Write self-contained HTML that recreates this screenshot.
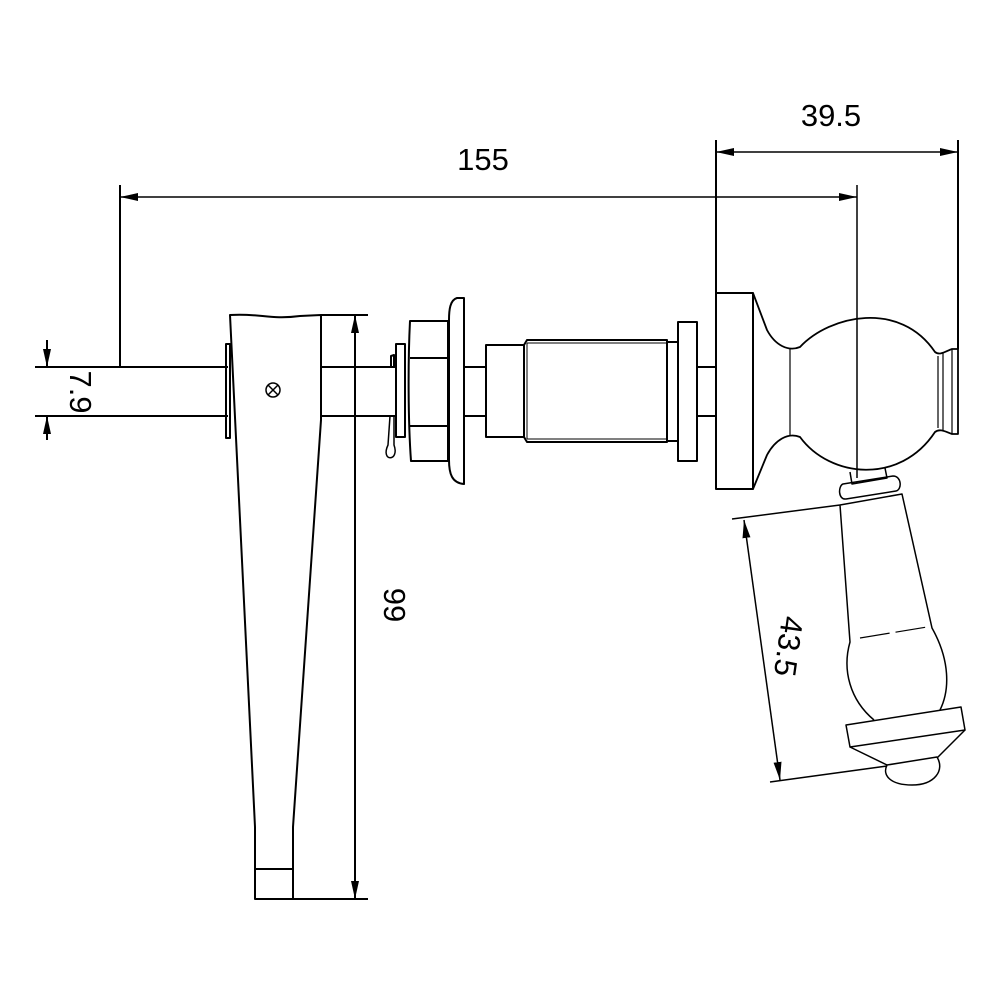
<!DOCTYPE html>
<html><head><meta charset="utf-8"><style>html,body{margin:0;padding:0;background:#fff}svg{display:block}</style></head>
<body>
<svg width="1000" height="1000" viewBox="0 0 1000 1000" xmlns="http://www.w3.org/2000/svg" fill="none" stroke="#000" stroke-width="2" stroke-linejoin="round">
<defs>
<marker id="a" viewBox="0 0 18 10" refX="18" refY="5" markerWidth="18" markerHeight="10" markerUnits="userSpaceOnUse" orient="auto-start-reverse"><path d="M0,1 L18,5 L0,9 Z" fill="#000" stroke="none"/></marker>
</defs>
<g font-family="Liberation Sans, sans-serif" font-size="31" fill="#000" stroke="none">
<text x="483" y="170" text-anchor="middle">155</text>
<text x="831" y="126" text-anchor="middle">39.5</text>
<text transform="translate(70,392) rotate(90)" text-anchor="middle">7.9</text>
<text transform="translate(384,605) rotate(90)" text-anchor="middle">99</text>
<text transform="translate(778,645) rotate(98)" text-anchor="middle">43.5</text>
</g>
<line x1="120" y1="185" x2="120" y2="367"/>
<line x1="120" y1="197" x2="857" y2="197" marker-start="url(#a)" marker-end="url(#a)" stroke-width="1.5"/>
<line x1="857" y1="185" x2="857" y2="478" stroke-width="1.5"/>
<line x1="716" y1="140" x2="716" y2="293"/>
<line x1="958" y1="140" x2="958" y2="349"/>
<line x1="716" y1="152" x2="958" y2="152" marker-start="url(#a)" marker-end="url(#a)" stroke-width="1.5"/>
<line x1="35" y1="367" x2="120" y2="367"/>
<line x1="35" y1="416" x2="120" y2="416"/>
<line x1="47" y1="340" x2="47" y2="367" marker-end="url(#a)"/>
<line x1="47" y1="440" x2="47" y2="416" marker-end="url(#a)"/>
<line x1="321" y1="315" x2="368" y2="315"/>
<line x1="293" y1="899" x2="368" y2="899"/>
<line x1="355" y1="315" x2="355" y2="899" marker-start="url(#a)" marker-end="url(#a)"/>
<line x1="732" y1="519" x2="840" y2="505" stroke-width="1.5"/>
<line x1="770" y1="782" x2="887" y2="766" stroke-width="1.5"/>
<line x1="744" y1="520" x2="780" y2="780" marker-start="url(#a)" marker-end="url(#a)" stroke-width="1.5"/>
<line x1="120" y1="367" x2="228" y2="367"/>
<line x1="120" y1="416" x2="228" y2="416"/>
<rect x="226" y="344" width="4" height="94"/>
<path d="M230,315 C260,313 270,320 300,316 L321,315 L321,420 L293,827 L293,899 L255,899 L255,827 Z"/>
<line x1="255" y1="869" x2="293" y2="869"/>
<circle cx="273" cy="390" r="7" stroke-width="1.5"/>
<path d="M268,385 L278,395 M278,385 L268,395" stroke-width="1.5"/>
<line x1="321" y1="367" x2="396" y2="367"/>
<line x1="321" y1="416" x2="396" y2="416"/>
<rect x="396" y="344" width="9" height="93"/>
<path d="M391,367 L391,356 L394,355 L394,367"/>
<path d="M390,416 L388,445 C380,462 400,462 394,445 L394,416" stroke-width="1.5"/>
<path d="M410,321 L448,321 L448,461 L411,461 C408,420 408,360 410,321 Z"/>
<line x1="410" y1="358" x2="448" y2="358"/>
<line x1="410" y1="426" x2="448" y2="426"/>
<path d="M464,298 L457,298 C450,300 449,310 449,320 L449,460 C449,474 452,483 464,484 Z"/>
<line x1="464" y1="367" x2="487" y2="367"/>
<line x1="464" y1="416" x2="487" y2="416"/>
<rect x="486" y="345" width="38" height="92"/>
<path d="M524,345 L527,340 L667,340 L667,442 L527,442 L524,437"/>
<line x1="527" y1="343" x2="667" y2="343" stroke-width="1"/>
<line x1="527" y1="439" x2="667" y2="439" stroke-width="1"/>
<line x1="527" y1="343" x2="527" y2="439" stroke-width="1"/>
<rect x="667" y="342" width="11" height="99"/>
<rect x="678" y="322" width="19" height="139"/>
<line x1="697" y1="367" x2="716" y2="367"/>
<line x1="697" y1="416" x2="716" y2="416"/>
<rect x="716" y="293" width="37" height="196"/>
<path d="M753,293 L767,330 C775,345 788,352 800,347 C830,315 900,300 935,352 C940,356 946,351 952,349 L958,349 L958,434 L952,434 C946,432 940,428 935,432 C900,485 830,478 800,437 C788,432 775,440 767,455 L753,489" stroke-width="1.8"/>
<line x1="790" y1="348" x2="790" y2="436" stroke-width="1.2"/>
<line x1="938" y1="356" x2="938" y2="428" stroke-width="1.2"/>
<line x1="943" y1="353" x2="943" y2="431" stroke-width="1.2"/>
<line x1="952" y1="349" x2="952" y2="434" stroke-width="1.2"/>
<path d="M850,472 L852,484 L887,478 L885,468" stroke-width="1.5"/>
<path d="M843,484 L893,476 C902,476 902,490 896,491 L846,499 C838,500 838,486 843,484 Z" stroke-width="1.5"/>
<path d="M840,505 L902,494 L932,628 C950,660 950,690 940,710 M840,505 L850,642 C842,670 850,700 874,720" stroke-width="1.5"/>
<path d="M860,638 L927,627" stroke-width="1.2" stroke-dasharray="30,6"/>
<path d="M846,725 L961,707 L965,730 L850,747 Z" stroke-width="1.5"/>
<path d="M850,747 L887,765 M965,730 L937,758" stroke-width="1.5"/>
<path d="M887,765 L937,757 C945,770 935,785 912,785 C890,785 882,775 887,765 Z" stroke-width="1.5"/>
</svg>
</body></html>
